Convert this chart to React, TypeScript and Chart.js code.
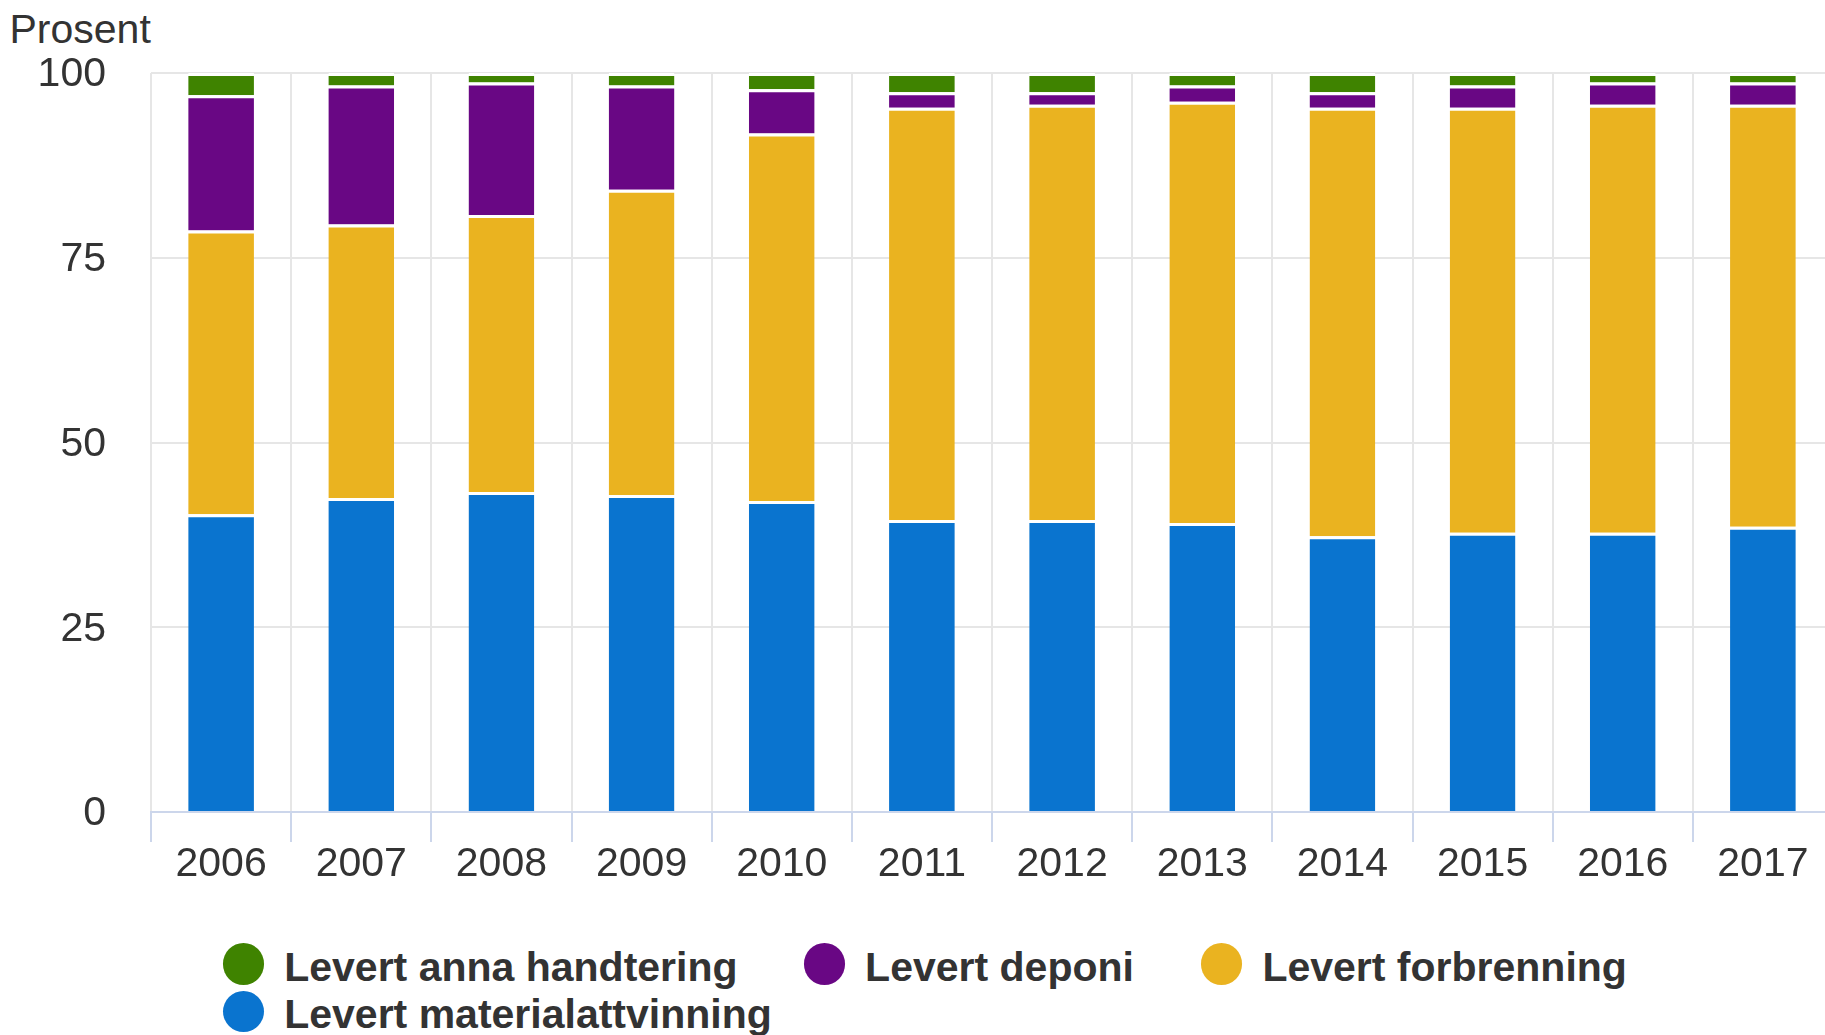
import React, { useEffect, useRef } from 'react';
import { Chart, registerables } from 'chart.js';

Chart.register(...registerables);

// ---- data ----
const years = ['2006', '2007', '2008', '2009', '2010', '2011', '2012', '2013', '2014', '2015', '2016', '2017'];
const materialattvinning = [40.3, 42.5, 43.3, 42.9, 42.1, 39.5, 39.5, 39.1, 37.3, 37.8, 37.8, 38.6];
const forbrenning = [38.4, 37.0, 37.5, 41.3, 49.7, 55.8, 56.2, 57.0, 58.0, 57.5, 57.9, 57.1];
const deponi = [18.3, 18.8, 17.9, 14.1, 6.0, 2.1, 1.7, 2.2, 2.1, 3.0, 3.0, 3.0];
const annaHandtering = [3.0, 1.7, 1.3, 1.7, 2.2, 2.6, 2.6, 1.7, 2.6, 1.7, 1.3, 1.3];
const yTicks = [0, 25, 50, 75, 100];
const yAxisTitle = 'Prosent';

const seriesNames = {
  materialattvinning: 'Levert materialattvinning',
  forbrenning: 'Levert forbrenning',
  deponi: 'Levert deponi',
  anna: 'Levert anna handtering',
};

const colors = {
  anna: '#3f8300',
  deponi: '#690784',
  forbrenning: '#eab320',
  materialattvinning: '#0a74cf',
};

const FONT = "'Liberation Sans', Arial, Helvetica, sans-serif";
const TEXT = '#333333';
const FS = 41;

const legendItems = [
  { name: seriesNames.anna, color: colors.anna, left: 222.7, row: 0 },
  { name: seriesNames.deponi, color: colors.deponi, left: 803.6, row: 0 },
  { name: seriesNames.forbrenning, color: colors.forbrenning, left: 1200.9, row: 0 },
  { name: seriesNames.materialattvinning, color: colors.materialattvinning, left: 222.7, row: 1 },
];

export default function App() {
  const canvasRef = useRef<HTMLCanvasElement | null>(null);

  useEffect(() => {
    const canvas = canvasRef.current;
    if (!canvas) return;
    const border = { top: 3, right: 0, bottom: 0, left: 0 };
    const mk = (label: string, data: number[], color: string) => ({
      label,
      data,
      backgroundColor: color,
      borderColor: '#ffffff',
      borderWidth: border,
      borderSkipped: false,
      stack: 's',
      barPercentage: 0.469,
      categoryPercentage: 1,
    });
    const chart = new Chart(canvas, {
      type: 'bar',
      data: {
        labels: years,
        datasets: [
          mk(seriesNames.materialattvinning, materialattvinning, colors.materialattvinning),
          mk(seriesNames.forbrenning, forbrenning, colors.forbrenning),
          mk(seriesNames.deponi, deponi, colors.deponi),
          mk(seriesNames.anna, annaHandtering, colors.anna),
        ] as any,
      },
      options: {
        animation: false,
        responsive: false,
        devicePixelRatio: 1,
        layout: { padding: { top: 73, left: 0, right: 0, bottom: 0 } },
        plugins: {
          legend: { display: false },
          tooltip: { enabled: false },
          title: { display: false },
        },
        scales: {
          x: {
            stacked: true,
            offset: true,
            grid: {
              offset: true,
              color: '#e6e6e6',
              lineWidth: 2,
              drawTicks: true,
              tickLength: 30,
              tickColor: '#ccd6eb',
              tickWidth: 2,
            },
            border: { display: true, color: '#ccd6eb', width: 2 },
            ticks: {
              color: TEXT,
              font: { family: FONT, size: FS, lineHeight: 1 },
              padding: 2,
              maxRotation: 0,
              autoSkip: false,
            },
            afterFit: (s: any) => {
              s.height = 88;
            },
          },
          y: {
            stacked: true,
            min: 0,
            max: 100,
            afterBuildTicks: (s: any) => {
              s.ticks = yTicks.map((v) => ({ value: v }));
            },
            grid: {
              color: (ctx: any) => (ctx.tick && ctx.tick.value === 0 ? '#ccd6eb' : '#e6e6e6'),
              lineWidth: 2,
              drawTicks: false,
            },
            border: { display: false },
            ticks: {
              color: TEXT,
              font: { family: FONT, size: FS, lineHeight: 1 },
              padding: 45,
              labelOffset: 2,
            },
            afterFit: (s: any) => {
              s.width = 151;
            },
          },
        },
      } as any,
    });
    return () => chart.destroy();
  }, []);

  return (
    <div
      style={{
        position: 'fixed',
        left: 0,
        top: 0,
        width: 1825,
        height: 1035,
        overflow: 'hidden',
        background: '#ffffff',
        fontFamily: FONT,
      }}
    >
      <div
        style={{
          position: 'absolute',
          left: 9.5,
          top: 8.6,
          fontSize: FS,
          lineHeight: FS + 'px',
          color: TEXT,
          whiteSpace: 'nowrap',
        }}
      >
        {yAxisTitle}
      </div>
      <canvas
        ref={canvasRef}
        width={1833}
        height={900}
        style={{ position: 'absolute', left: 0, top: 0, width: 1833, height: 900, display: 'block' }}
      />
      {legendItems.map((it) => (
        <div key={it.name}>
          <div
            style={{
              position: 'absolute',
              left: it.left,
              top: it.row === 0 ? 943.3 : 990.7,
              width: 41.3,
              height: 41.3,
              borderRadius: '50%',
              background: it.color,
            }}
          />
          <div
            style={{
              position: 'absolute',
              left: it.left + 61.5,
              top: it.row === 0 ? 947.3 : 993.8,
              fontSize: FS,
              lineHeight: FS + 'px',
              fontWeight: 'bold',
              color: TEXT,
              whiteSpace: 'nowrap',
            }}
          >
            {it.name}
          </div>
        </div>
      ))}
    </div>
  );
}
